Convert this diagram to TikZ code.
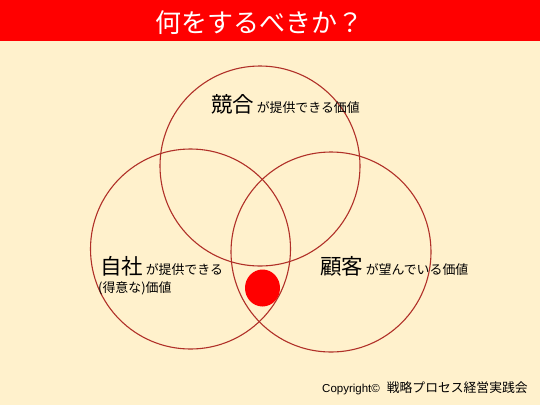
\documentclass[tikz,border=0pt]{standalone}
\usepackage{fontspec}
\newfontfamily\jp{Noto Sans CJK JP}
\newfontfamily\lat{Liberation Sans}
\definecolor{cream}{HTML}{FFF1CC}
\definecolor{ring}{HTML}{B03028}
\definecolor{barred}{HTML}{FF0000}
\begin{document}
\begin{tikzpicture}[x=1pt,y=-1pt,
  ringc/.style={draw=ring,line width=1.1pt},
  big/.style={font=\jp\fontsize{21.5}{23}\selectfont,inner sep=0pt,anchor=base west},
  small/.style={font=\jp\fontsize{12.9}{14}\selectfont,inner sep=0pt,anchor=base west}]
\fill[cream] (0,0) rectangle (540,405);
\useasboundingbox (0,0) rectangle (540,405);
\fill[barred] (0,0) rectangle (540,41);
\node[font=\jp\fontsize{26}{28}\selectfont,text=white,inner sep=0pt,anchor=base west] (title) at (155,32) {何をするべきか？};
\draw[ringc] (260,166) circle (100);
\draw[ringc] (190.5,249) circle (100);
\draw[ringc] (331,252) circle (100);
\fill[barred] (262.5,288) ellipse (17.5 and 18.5);
\node[big] (k1) at (211,112) {競合};
\node[small] (k2) at (k1.base east) {\,が提供できる価値};
\node[big] (j1) at (100,274) {自社};
\node[small] (j2) at (j1.base east) {\,が提供できる};
\node[small] (j3) at (98,292) {(得意な)価値};
\node[big] (c1) at (320,274) {顧客};
\node[small] (c2) at (c1.base east) {\,が望んでいる価値};
\node[inner sep=0pt,anchor=base west] (cp) at (322,392) {{\lat\fontsize{11.5}{13}\selectfont Copyright©}\hspace{7pt}{\jp\fontsize{12.8}{14}\selectfont 戦略プロセス経営実践会}};
\end{tikzpicture}
\end{document}
